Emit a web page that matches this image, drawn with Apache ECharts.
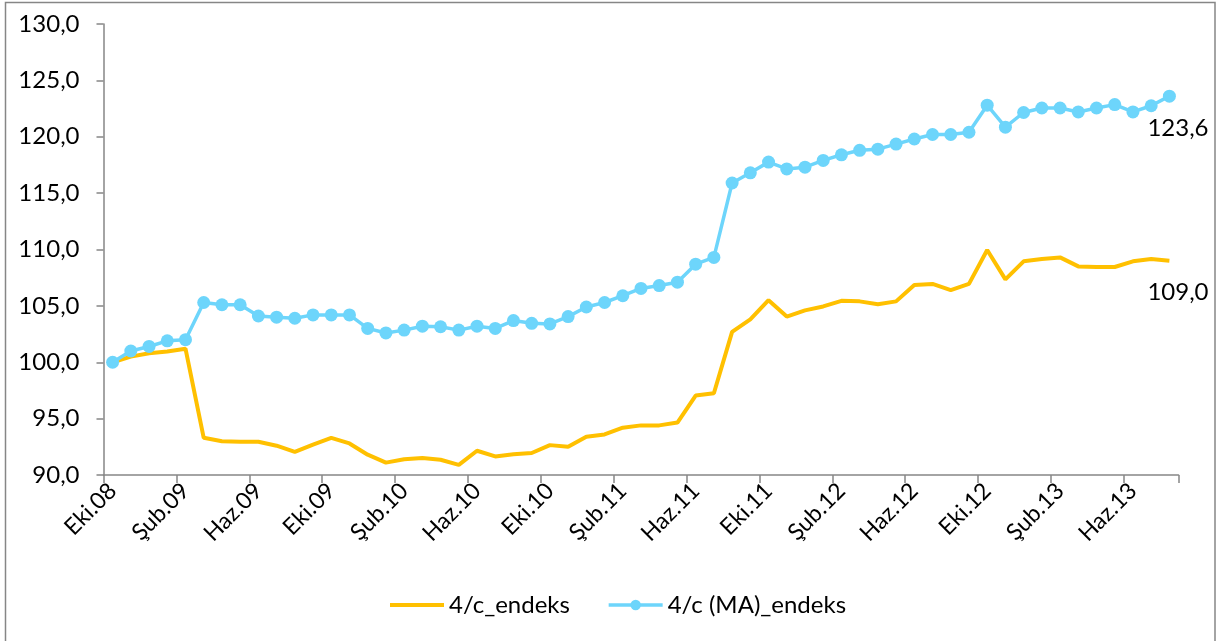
<!DOCTYPE html>
<html>
<head>
<meta charset="utf-8">
<script src="https://cdn.jsdelivr.net/npm/echarts@6/dist/echarts.min.js"></script>
<style>
html,body{margin:0;padding:0;background:#fff;}
#chart{width:1216px;height:641px;}
</style>
</head>
<body>
<div id="chart"></div>
<script>
const categories = [
 'Eki.08','Kas.08','Ara.08','Oca.09','Şub.09','Mar.09','Nis.09','May.09','Haz.09','Tem.09','Ağu.09','Eyl.09',
 'Eki.09','Kas.09','Ara.09','Oca.10','Şub.10','Mar.10','Nis.10','May.10','Haz.10','Tem.10','Ağu.10','Eyl.10',
 'Eki.10','Kas.10','Ara.10','Oca.11','Şub.11','Mar.11','Nis.11','May.11','Haz.11','Tem.11','Ağu.11','Eyl.11',
 'Eki.11','Kas.11','Ara.11','Oca.12','Şub.12','Mar.12','Nis.12','May.12','Haz.12','Tem.12','Ağu.12','Eyl.12',
 'Eki.12','Kas.12','Ara.12','Oca.13','Şub.13','Mar.13','Nis.13','May.13','Haz.13','Tem.13','Ağu.13'
];
const endeks = [
 100.0,100.5,100.8,100.95,101.2,93.3,93.0,92.95,92.95,92.6,92.05,92.7,
 93.3,92.8,91.8,91.1,91.4,91.5,91.35,90.9,92.15,91.65,91.85,91.95,
 92.65,92.5,93.4,93.6,94.2,94.4,94.4,94.65,97.05,97.25,102.7,103.8,
 105.5,104.05,104.6,104.95,105.45,105.4,105.15,105.4,106.85,106.95,106.4,106.95,
 109.95,107.35,108.95,109.15,109.3,108.5,108.45,108.45,108.95,109.15,109.0
];
const endeksMA = [
 100.0,101.0,101.4,101.9,102.0,105.3,105.1,105.1,104.1,104.0,103.9,104.2,
 104.2,104.2,103.0,102.6,102.85,103.2,103.15,102.85,103.2,103.0,103.7,103.45,
 103.4,104.05,104.9,105.3,105.9,106.55,106.8,107.1,108.7,109.3,115.9,116.8,
 117.75,117.15,117.3,117.9,118.4,118.8,118.9,119.35,119.8,120.2,120.2,120.4,
 122.8,120.85,122.15,122.55,122.55,122.2,122.55,122.85,122.2,122.75,123.6
];
const yTicks = [90,95,100,105,110,115,120,125,130];
const seriesNames = ['4/c_endeks','4/c (MA)_endeks'];

const fmt = v => Number(v).toFixed(1).replace('.', ',');
const FONT = 'Lato';
const FS = 24;
const chart = echarts.init(document.getElementById('chart'));
chart.setOption({
  animation: false,
  backgroundColor: '#fff',
  textStyle: {fontFamily: FONT},
  graphic: [{
    type: 'rect', shape: {x: 5.5, y: 2.5, width: 1209.5, height: 660},
    style: {fill: 'none', stroke: '#868686', lineWidth: 1.5}, silent: true
  }],
  grid: {left: 103.5, right: 37.5, top: 24, bottom: 166},
  legend: {
    data: [
      {name: seriesNames[0], itemStyle: {opacity: 0}, lineStyle: {width: 4}},
      {name: seriesNames[1], lineStyle: {width: 3.5}}
    ],
    left: 383, top: 588, itemWidth: 54, itemHeight: 13, itemGap: 37,
    textStyle: {fontFamily: FONT, fontSize: FS, color: '#000'}
  },
  xAxis: {
    type: 'category', data: categories, boundaryGap: true,
    axisLine: {lineStyle: {color: '#868686', width: 1.5}},
    axisTick: {show: true, interval: 3, length: 8, lineStyle: {color: '#868686', width: 1.5}},
    axisLabel: {interval: 3, rotate: 45, margin: 12, fontFamily: FONT, fontSize: FS - 1, color: '#000'},
    splitLine: {show: false}
  },
  yAxis: {
    type: 'value', min: yTicks[0], max: yTicks[yTicks.length-1], interval: 5,
    axisLine: {show: true, lineStyle: {color: '#868686', width: 1.5}},
    axisTick: {show: true, length: 7, lineStyle: {color: '#868686', width: 1.5}},
    axisLabel: {formatter: fmt, margin: 24, fontFamily: FONT, fontSize: FS, color: '#000'},
    splitLine: {show: false}
  },
  series: [
    {
      name: seriesNames[0], type: 'line', data: endeks, showSymbol: false, symbol: 'circle', symbolSize: 0,
      lineStyle: {color: '#FFC000', width: 4}, itemStyle: {color: '#FFC000'},
      endLabel: {show: true, formatter: p => fmt(p.value), distance: 0, offset: [-22, 31],
        fontFamily: FONT, fontSize: FS, color: '#000'},
      z: 2
    },
    {
      name: seriesNames[1], type: 'line', data: endeksMA, symbol: 'circle', symbolSize: 13,
      showAllSymbol: true,
      lineStyle: {color: '#6DD5FB', width: 3.5}, itemStyle: {color: '#6DD5FB'},
      endLabel: {show: true, formatter: p => fmt(p.value), distance: 0, offset: [-22, 32],
        fontFamily: FONT, fontSize: FS, color: '#000'},
      z: 3
    }
  ]
});
</script>
</body>
</html>
